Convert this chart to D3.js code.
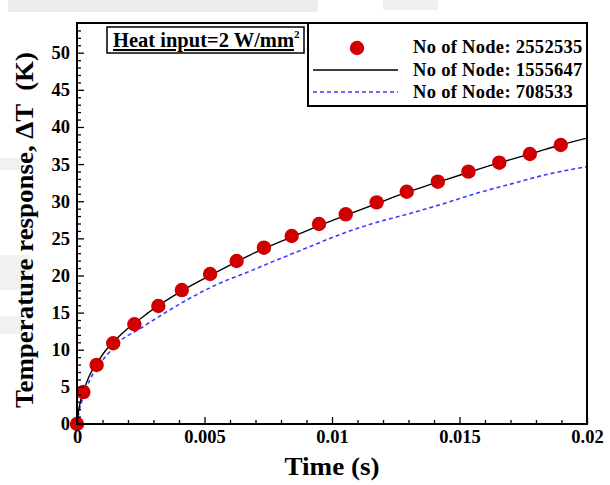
<!DOCTYPE html>
<html>
<head>
  <meta charset="utf-8">
  <title>Temperature response</title>
  <script src="https://cdn.jsdelivr.net/npm/d3@7"></script>
  <style>
    body { margin: 0; background: #ffffff; }
    text { font-family: "Liberation Serif", "Times New Roman", serif; font-weight: bold; }
  </style>
</head>
<body>
  <svg width="610" height="485" id="mainsvg"></svg>
  <script>
    // data
    const node2552535T = [0, 0.00025, 0.00077, 0.00142, 0.00225, 0.00319, 0.00411, 0.00522, 0.00626, 0.00733,
      0.00842, 0.00949, 0.01054, 0.01175, 0.01293, 0.01415, 0.01535, 0.01656, 0.01776, 0.01897];
    const node2552535V = [0, 4.3, 7.95, 10.87, 13.43, 15.89, 18.04, 20.2, 21.95, 23.74,
      25.32, 26.93, 28.24, 29.85, 31.28, 32.63, 33.98, 35.19, 36.36, 37.57];

    const node1555647T = [0, 0.00005, 0.0001, 0.0002, 0.0003, 0.0005, 0.0008, 0.0011, 0.0015, 0.002, 0.0025, 0.003,
      0.004, 0.005, 0.006, 0.007, 0.008, 0.009, 0.01, 0.011, 0.012, 0.013, 0.014, 0.015, 0.016, 0.017, 0.018, 0.019, 0.02];
    const node1555647V = [0, 1.5, 2.5, 3.9, 4.9, 6.6, 8.3, 9.8, 11.3, 12.9, 14.2, 15.5,
      17.7, 19.6, 21.4, 23.1, 24.6, 26.0, 27.4, 28.7, 30.0, 31.3, 32.4, 33.5, 34.6, 35.6, 36.6, 37.6, 38.5];

    const node708533T = [0, 0.0001, 0.0002, 0.0005, 0.0009, 0.0013, 0.0016, 0.0025, 0.003, 0.0042, 0.0055, 0.0068,
      0.0077, 0.009, 0.0103, 0.0116, 0.013, 0.0144, 0.0157, 0.017, 0.0183, 0.02];
    const node708533V = [0, 2.0, 3.2, 5.9, 8.1, 9.8, 10.9, 12.9, 14.0, 16.5, 18.8, 20.6,
      21.9, 23.7, 25.5, 27.0, 28.3, 29.7, 31.1, 32.3, 33.5, 34.65];

    const xMajor = [0, 0.005, 0.01, 0.015, 0.02];
    const xLabels = ['0', '0.005', '0.01', '0.015', '0.02'];
    const yMajor = [0, 5, 10, 15, 20, 25, 30, 35, 40, 45, 50];
    const legendNames = ['No of Node: 2552535', 'No of Node: 1555647', 'No of Node: 708533'];

    const svg = d3.select('#mainsvg');
    const plot = { left: 77, right: 587, top: 23, bottom: 424 };

    // faint watermark remnants in the background
    const wm = svg.append('g').attr('fill', '#ececec');
    wm.append('rect').attr('x', 8).attr('y', 0).attr('width', 310).attr('height', 12);
    wm.append('rect').attr('x', 383).attr('y', 0).attr('width', 55).attr('height', 10).attr('fill', '#f0f0f0');
    wm.append('rect').attr('x', 0).attr('y', 158).attr('width', 20).attr('height', 12).attr('fill', '#f1f1f1');
    wm.append('rect').attr('x', 0).attr('y', 255).attr('width', 30).attr('height', 35).attr('fill', '#f1f1f1');
    wm.append('rect').attr('x', 0).attr('y', 316).attr('width', 22).attr('height', 18).attr('fill', '#f1f1f1');

    const xScale = d3.scaleLinear().domain([0, 0.02]).range([plot.left, plot.right]);
    const yScale = d3.scaleLinear().domain([0, 54]).range([plot.bottom, plot.top]);

    svg.append('defs').append('clipPath').attr('id', 'clip')
      .append('rect')
      .attr('x', plot.left).attr('y', plot.top)
      .attr('width', plot.right - plot.left).attr('height', plot.bottom - plot.top);

    const zip = (ts, vs) => ts.map((t, i) => ({ t: t, v: vs[i] }));
    const line = d3.line().x(d => xScale(d.t)).y(d => yScale(d.v)).curve(d3.curveMonotoneX);

    const g = svg.append('g').attr('clip-path', 'url(#clip)');
    g.append('path').datum(zip(node708533T, node708533V))
      .attr('d', line).attr('fill', 'none')
      .attr('stroke', '#3c3cff').attr('stroke-width', 1.6).attr('stroke-dasharray', '4,3');

    // circles (drawn before the black line so the line shows through them)
    svg.append('g').selectAll('circle')
      .data(zip(node2552535T, node2552535V))
      .enter().append('circle')
      .attr('cx', d => xScale(d.t))
      .attr('cy', d => yScale(d.v))
      .attr('r', 7.2)
      .attr('fill', '#d10000');

    g.append('path').datum(zip(node1555647T, node1555647V))
      .attr('d', line).attr('fill', 'none')
      .attr('stroke', '#000000').attr('stroke-width', 1.4);

    // axes, ticks pointing inward
    const xAxis = d3.axisBottom(xScale).tickValues(xMajor)
      .tickFormat((d, i) => xLabels[i]).tickSizeInner(-7).tickSizeOuter(0).tickPadding(6);
    const xMinor = d3.axisBottom(xScale).tickValues(d3.range(1, 20).map(i => i * 0.001).filter(v => Math.round(v * 1000) % 5 !== 0))
      .tickFormat('').tickSizeInner(-4).tickSizeOuter(0);
    const yAxis = d3.axisLeft(yScale).tickValues(yMajor)
      .tickSizeInner(-7).tickSizeOuter(0).tickPadding(7);
    const yMinor = d3.axisLeft(yScale).tickValues(d3.range(1, 54).filter(v => v % 5 !== 0))
      .tickFormat('').tickSizeInner(-4).tickSizeOuter(0);

    const styleAxis = sel => {
      sel.selectAll('.domain').remove();
      sel.selectAll('line').attr('stroke', '#000').attr('stroke-width', 1.3);
      sel.selectAll('text').attr('font-size', 18.5).attr('fill', '#000')
        .attr('font-family', '"Liberation Serif", serif').attr('font-weight', 'bold');
    };

    svg.append('g').attr('transform', `translate(0,${plot.bottom})`).call(xMinor).call(styleAxis);
    svg.append('g').attr('transform', `translate(0,${plot.bottom})`).call(xAxis).call(styleAxis);
    svg.append('g').attr('transform', `translate(${plot.left},0)`).call(yMinor).call(styleAxis);
    svg.append('g').attr('transform', `translate(${plot.left},0)`).call(yAxis).call(styleAxis);

    // frame
    svg.append('rect')
      .attr('x', plot.left).attr('y', plot.top)
      .attr('width', plot.right - plot.left).attr('height', plot.bottom - plot.top)
      .attr('fill', 'none').attr('stroke', '#000').attr('stroke-width', 2);

    // axis titles
    svg.append('text')
      .attr('x', (plot.left + plot.right) / 2).attr('y', 475)
      .attr('text-anchor', 'middle').attr('font-size', 25)
      .attr('textLength', 95).attr('lengthAdjust', 'spacingAndGlyphs')
      .text('Time (s)');
    svg.append('text')
      .attr('transform', `translate(33,230) rotate(-90)`)
      .attr('text-anchor', 'middle').attr('font-size', 25)
      .attr('textLength', 356).attr('lengthAdjust', 'spacingAndGlyphs')
      .style('white-space', 'pre')
      .text('Temperature response, \u0394T  (K)');

    // heat input label box
    svg.append('rect').attr('x', 107).attr('y', 27).attr('width', 197).attr('height', 26)
      .attr('fill', '#fff').attr('stroke', '#000').attr('stroke-width', 1.5);
    const heat = svg.append('text').attr('x', 113).attr('y', 47).attr('font-size', 20.5);
    heat.append('tspan').attr('text-decoration', 'underline').text('Heat input=2 W/mm');
    heat.append('tspan').attr('font-size', 11).attr('dy', -9).text('2');

    // legend
    const lg = svg.append('g');
    lg.append('rect').attr('x', 308).attr('y', plot.top).attr('width', plot.right - 308).attr('height', 83)
      .attr('fill', '#fff').attr('stroke', '#000').attr('stroke-width', 2);
    lg.append('circle').attr('cx', 357).attr('cy', 48).attr('r', 7.2).attr('fill', '#d10000');
    lg.append('line').attr('x1', 313).attr('x2', 398).attr('y1', 70).attr('y2', 70)
      .attr('stroke', '#000').attr('stroke-width', 1.4);
    lg.append('line').attr('x1', 313).attr('x2', 398).attr('y1', 92).attr('y2', 92)
      .attr('stroke', '#3c3cff').attr('stroke-width', 1.6).attr('stroke-dasharray', '4,3');
    lg.selectAll('text.lab').data(legendNames).enter().append('text')
      .attr('class', 'lab')
      .attr('x', 413).attr('y', (d, i) => 53 + i * 22.5)
      .attr('font-size', 18.5).attr('letter-spacing', 0.3)
      .text(d => d);
  </script>
</body>
</html>
